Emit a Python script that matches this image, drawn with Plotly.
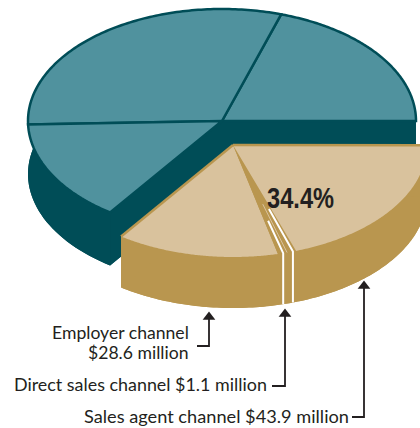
import numpy as np
import plotly.graph_objects as go

# --- data (US$ millions; the teal values are estimates)
other_channels = ["Other A", "Other B", "Other C"]
other_values = [42.5, 64.4, 31.2]
channels = ["Employer channel", "Direct sales channel", "Sales agent channel"]
channel_values = [28.6, 1.1, 43.9]
label_lines = ["Employer channel", "$28.6 million",
               "Direct sales channel $1.1 million",
               "Sales agent channel $43.9 million"]
share_label = "34.4%"

# --- styles and geometry
TEAL_TOP, TEAL_DARK = "#50929E", "#004D57"
TAN_TOP, TAN_DARK = "#D9C29D", "#B9964F"
INK = "#231F20"
FONT = "Lato"
RX, RY = 194, 112
TEAL_C, TEAL_DEPTH = (222, 121), 53
TAN_C, TAN_DEPTH = (233, 145), 51
DEG_PER_UNIT = 1.7
MIN_SWEEP = 5.6   # the thin slice is drawn wider than its share, taken from its neighbour

fig = go.Figure()


def poly(xs, ys, fill, line=None, width=0):
    fig.add_trace(go.Scatter(
        x=xs, y=ys, mode="lines", fill="toself" if fill else "none", fillcolor=fill,
        line=dict(color=line or fill or "rgba(0,0,0,0)", width=width, simplify=False),
        hoverinfo="skip", showlegend=False))


def arc(c, a0, a1, dy=0):
    t = np.radians(np.linspace(a0, a1, 120))
    return c[0] + RX * np.cos(t), c[1] + dy - RY * np.sin(t)


def sector(c, a0, a1, dy=0):
    x, y = arc(c, a0, a1, dy)
    return np.r_[c[0], x, c[0]], np.r_[c[1] + dy, y, c[1] + dy]


def solid(c, a0, a1, depth, color):
    """Side walls of an extruded sector."""
    x, y = sector(c, a0, a1, depth)
    poly(x, y, color)
    ax, ay = arc(c, a0, a1)
    poly(np.r_[ax, ax[::-1]], np.r_[ay, ay[::-1] + depth], color)
    for a in (a0, a1):
        ex, ey = arc(c, a, a)
        poly([c[0], ex[0], ex[0], c[0]],
             [c[1], ey[0], ey[0] + depth, c[1] + depth], color)


def radial(a, start, color, width, wall=True):
    """Line from a fraction of the radius out to the rim, optionally down the wall."""
    ex, ey = arc(TAN_C, a, a)
    ix = TAN_C[0] + start * (ex[0] - TAN_C[0])
    iy = TAN_C[1] + start * (ey[0] - TAN_C[1])
    xs, ys = [ix, ex[0]], [iy, ey[0]]
    if wall:
        xs.append(ex[0])
        ys.append(ey[0] + TAN_DEPTH)
    poly(xs, ys, None, color, width)


# teal part of the pie
sweeps = np.array(other_values) * DEG_PER_UNIT
edges = np.r_[0, np.cumsum(sweeps)]
solid(TEAL_C, edges[0], edges[-1], TEAL_DEPTH, TEAL_DARK)
for a0, a1 in zip(edges[:-1], edges[1:]):
    x, y = sector(TEAL_C, a0, a1)
    poly(x, y, TEAL_TOP, TEAL_DARK, 2.5)

# exploded tan part
tan_sweeps = np.array(channel_values) * DEG_PER_UNIT
tan_sweeps[2] -= MIN_SWEEP - tan_sweeps[1]
tan_sweeps[1] = MIN_SWEEP
tan_edges = edges[-1] + np.r_[0, np.cumsum(tan_sweeps)]
solid(TAN_C, tan_edges[0], tan_edges[-1], TAN_DEPTH, TAN_DARK)
for i, (a0, a1) in enumerate(zip(tan_edges[:-1], tan_edges[1:])):
    x, y = sector(TAN_C, a0, a1)
    poly(x, y, TAN_DARK if i == 1 else TAN_TOP)
# edge strokes from the apex
radial(tan_edges[0], 0, TAN_DARK, 2.5, wall=False)
radial(tan_edges[-1], 0, TAN_DARK, 2.5, wall=False)

# separators inside the thin slice
radial(tan_edges[1] + 1.6, 0.70, "#FFFFFF", 2)
radial(tan_edges[2] - 1.0, 0.60, "#FFFFFF", 2)
radial((tan_edges[1] + tan_edges[2]) / 2, 0.55, TAN_TOP, 1, wall=False)

# leader lines
leaders = [([209, 209, 197], [317, 346, 346]),
           ([285, 285, 272], [314, 386, 386]),
           ([364, 364, 352], [286, 417, 417])]
for xs, ys in leaders:
    fig.add_trace(go.Scatter(
        x=xs, y=ys, mode="lines+markers",
        line=dict(color=INK, width=1.8),
        marker=dict(symbol="triangle-up", size=[11, 0, 0], color=INK, opacity=1, line=dict(width=0)),
        hoverinfo="skip", showlegend=False))

text_pos = [(189, 332), (189, 352), (267, 384), (349, 416)]
text_size = [17.6, 17.6, 17.9, 18.2]
for label, (x, y), size in zip(label_lines, text_pos, text_size):
    fig.add_annotation(x=x, y=y, text=label, showarrow=False, xanchor="right", yanchor="middle",
                       xshift=2, font=dict(family=FONT, size=size, color=INK))
fig.add_annotation(x=300.5, y=197, text="<b>" + share_label + "</b>", showarrow=False,
                   font=dict(family="Liberation Sans", size=30, color=INK))

fig.update_layout(
    width=420, height=428, margin=dict(l=0, r=0, t=0, b=0),
    paper_bgcolor="white", plot_bgcolor="white", showlegend=False,
    xaxis=dict(range=[0, 420], visible=False, fixedrange=True),
    yaxis=dict(range=[428, 0], visible=False, fixedrange=True))

# page margin off; squeeze the percentage label into the reference's condensed width
post = """
document.body.style.margin='0';
document.documentElement.style.overflow='hidden';
document.querySelectorAll('text.annotation-text').forEach(function(t){
  if (t.textContent.indexOf('%') >= 0) {
    t.setAttribute('textLength','67');
    t.setAttribute('lengthAdjust','spacingAndGlyphs');
  }
});
"""
fig.write_html("out.html", config={"displayModeBar": False}, post_script=post)
